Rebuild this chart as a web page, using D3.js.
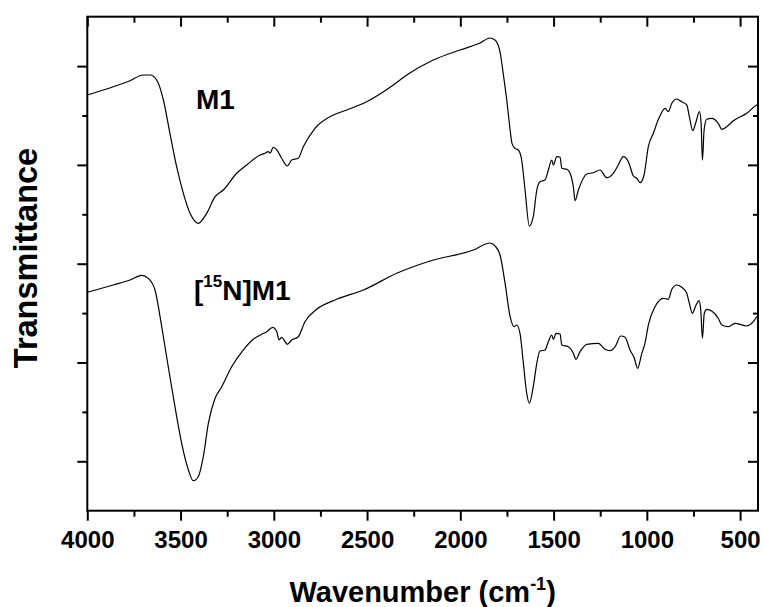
<!DOCTYPE html>
<html>
<head>
<meta charset="utf-8">
<script src="https://cdn.jsdelivr.net/npm/d3@7/dist/d3.min.js"></script>
<style>
  html, body { margin: 0; padding: 0; background: #fff; }
  svg text { font-family: "Liberation Sans", Arial, Helvetica, sans-serif; font-weight: bold; fill: #000; }
</style>
</head>
<body>
<svg id="chart" width="763" height="607"></svg>
<script>
// ---- Data (transmittance in arbitrary units) ----
const wavenumberM1 = [4000,3861,3771,3700,3664,3628,3592,3557,3521,3485,3449,3405,3360,3315,3271,3199,3145,3074,3047,3030,3020,3003,2984,2958,2928,2904,2869,2842,2779,2681,2609,2502,2359,2287,2145,2002,1894,1841,1814,1787,1769,1751,1733,1723,1707,1689,1671,1653,1630,1609,1590,1573,1546,1528,1510,1501,1483,1465,1456,1429,1408,1394,1385,1367,1322,1287,1251,1215,1180,1153,1126,1099,1072,1054,1036,1015,992,965,938,902,885,866,840,813,786,772,754,736,718,709,702,693,679,652,617,598,572,536,464,411,400];
const transM1 = [8.415,8.583,8.704,8.820,8.820,8.719,8.314,7.640,6.964,6.425,6.020,5.818,6.020,6.356,6.492,6.830,6.998,7.200,7.235,7.267,7.240,7.356,7.302,7.134,6.978,7.099,7.134,7.368,7.741,8.010,8.111,8.279,8.617,8.820,9.123,9.326,9.468,9.569,9.530,9.285,8.820,8.314,7.706,7.437,7.336,7.302,7.099,6.492,5.763,5.951,6.492,6.660,6.694,6.897,7.099,6.998,7.166,7.154,6.931,6.911,6.796,6.559,6.275,6.492,6.816,6.842,6.897,6.741,6.830,6.998,7.166,7.065,6.775,6.729,6.640,6.796,7.368,7.640,7.923,8.146,8.077,8.247,8.334,8.279,8.213,7.976,7.692,7.874,8.077,7.842,7.099,7.706,7.923,7.943,7.842,7.721,7.773,7.895,8.045,8.213,8.230];

const wavenumberN15 = [4000,3861,3771,3708,3673,3637,3601,3566,3530,3494,3458,3432,3405,3378,3351,3315,3279,3226,3164,3110,3065,3038,3006,2984,2972,2958,2945,2928,2904,2869,2833,2770,2663,2520,2341,2162,1930,1841,1814,1787,1760,1733,1712,1698,1680,1662,1644,1630,1609,1590,1573,1546,1528,1510,1501,1487,1465,1456,1421,1394,1380,1358,1322,1260,1224,1197,1170,1140,1117,1090,1069,1049,1027,1010,992,956,911,885,866,840,813,786,772,756,736,720,711,702,692,679,652,617,598,563,527,464,429,407,400];
const transN15 = [4.421,4.569,4.670,4.765,4.704,4.468,3.725,2.915,2.105,1.364,0.824,0.607,0.688,1.093,1.769,2.275,2.510,2.915,3.253,3.470,3.571,3.623,3.713,3.623,3.455,3.510,3.455,3.368,3.455,3.522,3.826,4.077,4.279,4.468,4.806,5.055,5.277,5.419,5.360,5.176,4.603,3.927,3.725,3.759,3.591,2.984,2.377,2.174,2.510,2.984,3.233,3.253,3.421,3.557,3.470,3.591,3.577,3.354,3.320,3.186,3.065,3.219,3.368,3.389,3.267,3.239,3.320,3.536,3.510,3.253,3.105,2.883,3.186,3.389,3.759,4.130,4.300,4.279,4.482,4.569,4.522,4.401,4.198,3.996,4.164,4.251,4.063,3.490,3.996,4.077,4.043,3.895,3.759,3.725,3.794,3.739,3.826,3.941,3.960];

const xMajorTicks = [4000,3500,3000,2500,2000,1500,1000,500];
const xMinorTicks = [3750,3250,2750,2250,1750,1250,750];
const xTickLabels = ["4000","3500","3000","2500","2000","1500","1000","500"];
const yMajorTicks = [1,3,5,7,9];
const yMinorTicks = [2,4,6,8];
const seriesLabels = ["M1", "[15N]M1"];

// ---- Layout ----
const svg = d3.select("#chart");
const pLeft = 87.3, pRight = 758, pTop = 16.7, pBottom = 510.7;

const x = d3.scaleLinear().domain([4000, 404]).range([pLeft, pRight]);
const y = d3.scaleLinear().domain([0, 10]).range([pBottom, pTop]);

// Curves
const line = d3.line()
  .x(d => x(d[0]))
  .y(d => y(d[1]))
  .curve(d3.curveMonotoneX);

const m1 = wavenumberM1.map((w, i) => [w, transM1[i]]);
const n15 = wavenumberN15.map((w, i) => [w, transN15[i]]);

svg.append("clipPath").attr("id", "plotclip")
  .append("rect").attr("x", pLeft).attr("y", pTop).attr("width", pRight - pLeft).attr("height", pBottom - pTop);

const gLines = svg.append("g").attr("clip-path", "url(#plotclip)");
[m1, n15].forEach(d => {
  gLines.append("path").datum(d)
    .attr("d", line)
    .attr("fill", "none")
    .attr("stroke", "#000")
    .attr("stroke-width", 1.2)
    .attr("stroke-linejoin", "round");
});

// Axes
function styleAxis(g) {
  g.select(".domain").remove();
  g.selectAll("line").attr("stroke", "#000").attr("stroke-width", 2);
}
svg.append("g").attr("transform", `translate(0,${pBottom})`)
  .call(d3.axisBottom(x).tickValues(xMajorTicks).tickSize(10).tickPadding(5)
    .tickFormat((d, i) => xTickLabels[i]))
  .call(styleAxis)
  .call(g => g.selectAll("text").attr("font-size", 24).attr("font-family", null).attr("dy", null).attr("y", 37.5));
svg.append("g").attr("transform", `translate(0,${pBottom})`)
  .call(d3.axisBottom(x).tickValues(xMinorTicks).tickSize(6).tickFormat(""))
  .call(styleAxis);
svg.append("g").attr("transform", `translate(0,${pTop})`)
  .call(d3.axisBottom(x).tickValues(xMajorTicks).tickSize(10).tickFormat(""))
  .call(styleAxis);
svg.append("g").attr("transform", `translate(0,${pTop})`)
  .call(d3.axisBottom(x).tickValues(xMinorTicks).tickSize(6).tickFormat(""))
  .call(styleAxis);
svg.append("g").attr("transform", `translate(${pLeft},0)`)
  .call(d3.axisLeft(y).tickValues(yMajorTicks).tickSize(10).tickFormat(""))
  .call(styleAxis);
svg.append("g").attr("transform", `translate(${pLeft},0)`)
  .call(d3.axisLeft(y).tickValues(yMinorTicks).tickSize(5).tickFormat(""))
  .call(styleAxis);
svg.append("g").attr("transform", `translate(${pRight},0)`)
  .call(d3.axisLeft(y).tickValues(yMajorTicks).tickSize(10).tickFormat(""))
  .call(styleAxis);
svg.append("g").attr("transform", `translate(${pRight},0)`)
  .call(d3.axisLeft(y).tickValues(yMinorTicks).tickSize(5).tickFormat(""))
  .call(styleAxis);

svg.append("rect").attr("x", pLeft).attr("y", pTop)
  .attr("width", pRight - pLeft).attr("height", pBottom - pTop)
  .attr("fill", "none").attr("stroke", "#000").attr("stroke-width", 2);

// Axis titles
const xt = svg.append("text").attr("x", (pLeft + pRight) / 2).attr("y", 601.5)
  .attr("text-anchor", "middle").attr("font-size", 29);
xt.append("tspan").text("Wavenumber (cm");
xt.append("tspan").attr("font-size", 18).attr("dy", -12).text("-1");
xt.append("tspan").attr("dy", 12).text(")");

svg.append("text")
  .attr("transform", "translate(37,258) rotate(-90)")
  .attr("text-anchor", "middle").attr("font-size", 32.5)
  .text("Transmittance");

// Series labels
svg.append("text").attr("x", 196).attr("y", 109.3).attr("font-size", 28).text(seriesLabels[0]);
const l2 = svg.append("text").attr("x", 194).attr("y", 300).attr("font-size", 28);
l2.append("tspan").text("[");
l2.append("tspan").attr("font-size", 17).attr("dy", -13).text("15");
l2.append("tspan").attr("dy", 13).text("N]M1");
</script>
</body>
</html>
